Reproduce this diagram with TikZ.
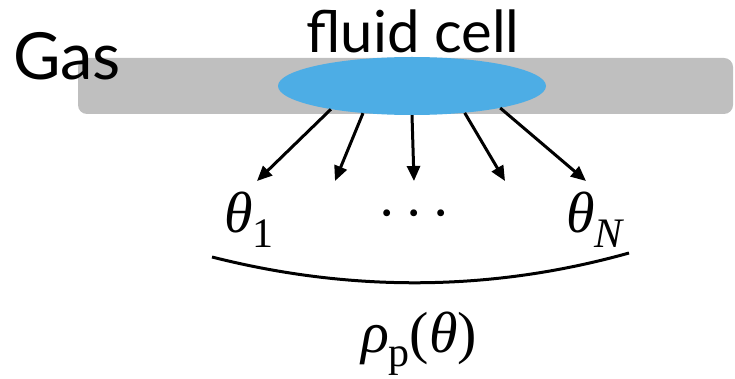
\documentclass[tikz,border=0pt]{standalone}
\usepackage{fontspec}
\setsansfont{Lato}
\newfontfamily\timesfont{Liberation Serif}
\usetikzlibrary{arrows.meta, shapes.geometric}
\definecolor{gasGray}{HTML}{BFBFBF}
\definecolor{cellBlue}{HTML}{4DADE5}
\newcommand{\lowsub}[1]{\raisebox{-14pt}{\fontsize{42}{42}\selectfont #1}}

\begin{document}
\begin{tikzpicture}[x=1pt, y=-1pt,
    flow/.style={-{Triangle[length=15pt, width=13pt]}, line width=3pt},
    label/.style={font=\sffamily\fontsize{58}{58}\selectfont, inner sep=0pt},
    mathlabel/.style={font=\timesfont\fontsize{58}{58}\selectfont, inner sep=0pt}]
    \useasboundingbox (0,0) rectangle (735,379);

    \fill[gasGray, rounded corners=9pt] (78,58) rectangle (733,114);
    \node[ellipse, fill=cellBlue, minimum width=268pt, minimum height=58pt, inner sep=0pt] (cell) at (412,86) {};

    \node[label, anchor=base west, font=\sffamily\fontsize{65}{65}\selectfont] (gas) at (13,80) {Gas};
    \node[label, anchor=base] (celltext) at (413,53) {fluid cell};

    \node[mathlabel, anchor=base west] (th1) at (224,233) {\textit{θ}\lowsub{1}};
    \node[mathlabel, anchor=base] (dots) at (414,233) {·\hspace{8pt}·\hspace{8pt}·};
    \node[mathlabel, anchor=base west] (thN) at (566,233) {\textit{θ}\lowsub{\textit{N}}};

    \coordinate (e1) at (257,181);
    \coordinate (e2) at (335,181);
    \coordinate (e3) at (414,181);
    \coordinate (e4) at (505,181);
    \coordinate (e5) at (586,181);
    \draw[flow] (cell.196) -- (e1);
    \draw[flow] (cell.209) -- (e2);
    \draw[flow] (cell.south) -- (e3);
    \draw[flow] (cell.333) -- (e4);
    \draw[flow] (cell.346) -- (e5);

    \coordinate (bl) at (212,257);
    \coordinate (br) at (629,253);
    \draw[line width=3pt] (bl) .. controls (350,292) and (490,292) .. (br);

    \node[mathlabel, anchor=base] (rho) at (419,352) {\textit{ρ}\lowsub{p}(\textit{θ})};
\end{tikzpicture}
\end{document}
